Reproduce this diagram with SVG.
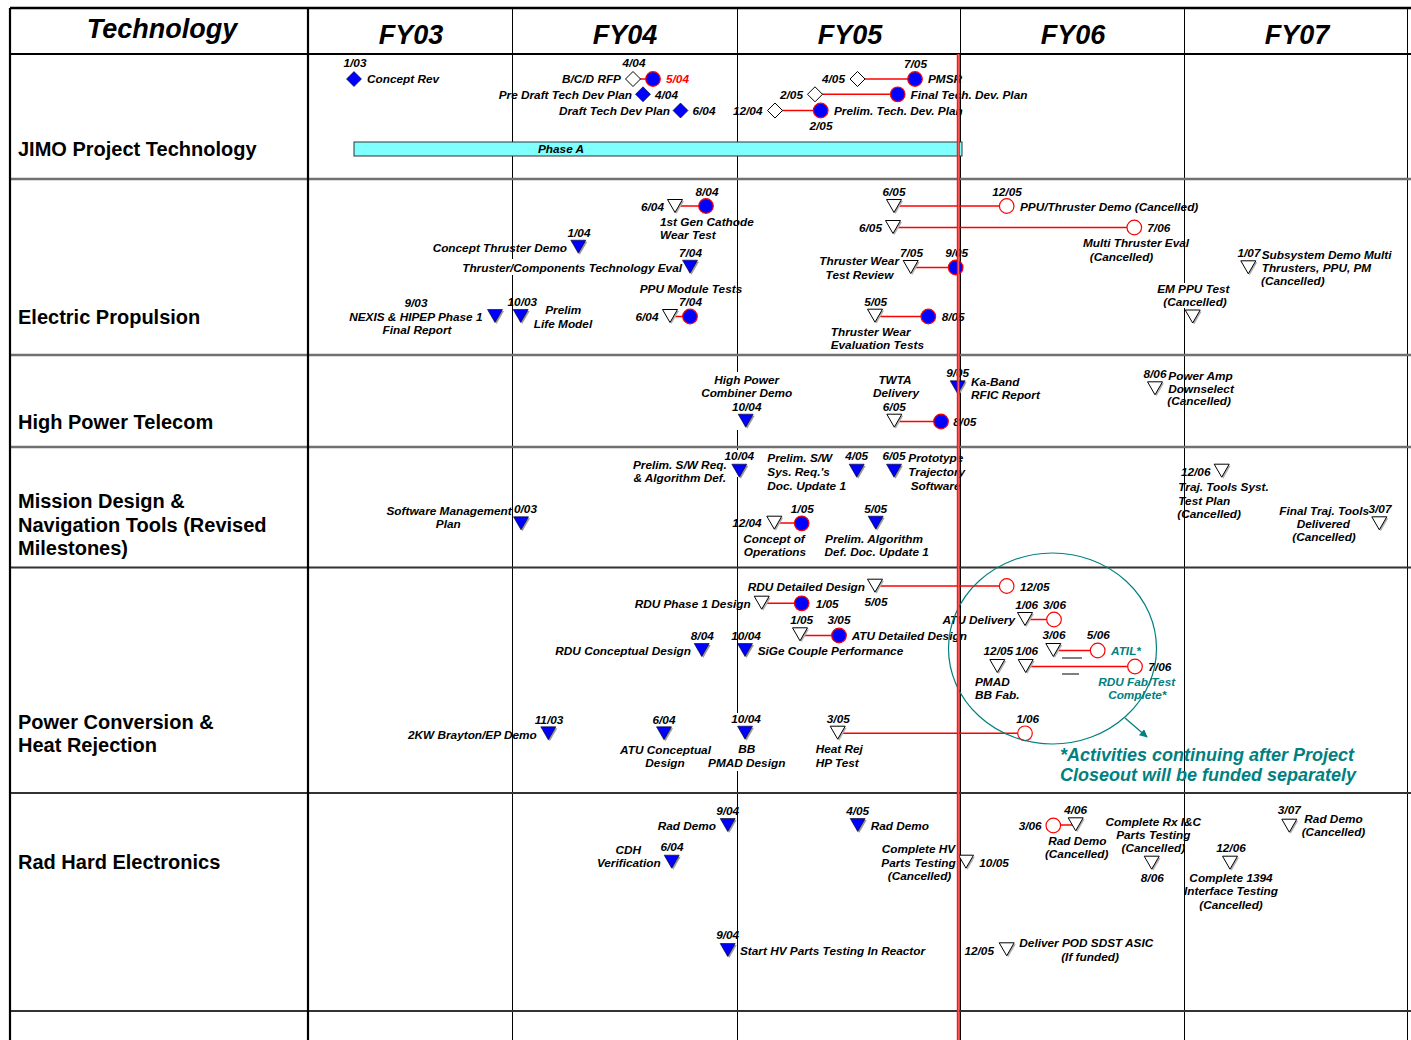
<svg xmlns="http://www.w3.org/2000/svg" width="1411" height="1040" viewBox="0 0 1411 1040">
<style>
text{font-family:"Liberation Sans",Arial,sans-serif;font-weight:bold;font-style:italic;font-size:11.8px;fill:#000}
.hd{font-size:27px}
.lbl{font-style:normal;font-size:20px}
.e{text-anchor:end}
.m{text-anchor:middle}
.red{fill:#f00}
.teal{fill:#008080}
.foot{font-size:18px;fill:#008080}
.cn{stroke:#f00;stroke-width:1.5;fill:none}
.grid{stroke:#000;stroke-width:1}
.thick{stroke:#000;stroke-width:2.2}
.rowsep{stroke:#707070;stroke-width:2.5}
.rowsep2{stroke:#333;stroke-width:2}
.wb{fill:#fff}
</style>
<defs>
<g id="tb"><polygon points="-6,-5 9,-5 1.5,8" fill="#9a9a9a"/><polygon points="-7.5,-6.5 7.5,-6.5 0,6.5" fill="#0000ff" stroke="#000" stroke-width="0.6"/></g>
<g id="tw"><polygon points="-6,-5 9,-5 1.5,8" fill="#b0b0b0"/><polygon points="-7.5,-6.5 7.5,-6.5 0,6.5" fill="#fff" stroke="#000" stroke-width="1"/></g>
<polygon id="db" points="0,-7.5 7.5,0 0,7.5 -7.5,0" fill="#0000ff" stroke="#000" stroke-width="0.6"/>
<polygon id="dw" points="0,-7.5 7.5,0 0,7.5 -7.5,0" fill="#fff" stroke="#000" stroke-width="1"/>
<circle id="cb" r="7.3" fill="#0000ff" stroke="#f00" stroke-width="1.2"/>
<circle id="cw" r="7.3" fill="#fff" stroke="#f00" stroke-width="1.2"/>
<marker id="ah" viewBox="0 0 10 10" refX="9" refY="5" markerWidth="9" markerHeight="8" markerUnits="userSpaceOnUse" orient="auto"><path d="M0,0 L10,5 L0,10 z" fill="#008080"/></marker>
</defs>
<rect width="1411" height="1040" fill="#fff"/>

<g id="grid">
<line class="grid" x1="512.5" y1="8" x2="512.5" y2="1040"/>
<line class="grid" x1="737.5" y1="8" x2="737.5" y2="1040"/>
<line class="grid" x1="960.5" y1="8" x2="960.5" y2="1040"/>
<line class="grid" x1="1184.5" y1="8" x2="1184.5" y2="1040"/>
<line class="grid" x1="1407.5" y1="8" x2="1407.5" y2="1040"/>
<line class="rowsep" x1="10" y1="179" x2="1411" y2="179"/>
<line class="rowsep" x1="10" y1="355" x2="1411" y2="355"/>
<line class="rowsep" x1="10" y1="447" x2="1411" y2="447"/>
<line class="rowsep2" x1="10" y1="567.5" x2="1411" y2="567.5"/>
<line class="rowsep2" x1="10" y1="793" x2="1411" y2="793"/>
<line class="rowsep2" x1="10" y1="1011" x2="1411" y2="1011"/>
<line class="thick" x1="10" y1="8" x2="1411" y2="8" style="stroke-width:2.6"/>
<line class="thick" x1="10" y1="54" x2="1411" y2="54"/>
<line class="thick" x1="10" y1="8" x2="10" y2="1040"/>
<line class="thick" x1="308" y1="8" x2="308" y2="1040"/>
</g>

<g id="text-backgrounds">
<rect class="wb" x="460" y="259" width="224" height="16"/>
<rect class="wb" x="699" y="372" width="97" height="58"/>
<rect class="wb" x="725" y="450" width="28" height="27"/>
<rect class="wb" x="1156" y="283" width="76" height="25"/>
<rect class="wb" x="708" y="713" width="78" height="58"/>
</g>

<g id="header">
<text class="hd m" x="162" y="38">Technology</text>
<text class="hd m" x="411" y="44">FY03</text>
<text class="hd m" x="625" y="44">FY04</text>
<text class="hd m" x="850" y="44">FY05</text>
<text class="hd m" x="1073" y="44">FY06</text>
<text class="hd m" x="1297" y="44">FY07</text>
</g>

<g id="row-labels">
<text class="lbl" x="18" y="156">JIMO Project Technology</text>
<text class="lbl" x="18" y="324">Electric Propulsion</text>
<text class="lbl" x="18" y="429">High Power Telecom</text>
<text class="lbl" x="18" y="508">Mission Design &amp;</text>
<text class="lbl" x="18" y="532">Navigation Tools (Revised</text>
<text class="lbl" x="18" y="555">Milestones)</text>
<text class="lbl" x="18" y="729">Power Conversion &amp;</text>
<text class="lbl" x="18" y="752">Heat Rejection</text>
<text class="lbl" x="18" y="869">Rad Hard Electronics</text>
</g>

<g id="phase-a">
<rect x="354" y="142" width="608" height="14" fill="#80ffff" stroke="#333" stroke-width="1"/>
<text class="m" x="561" y="153">Phase A</text>
</g>

<g id="connectors">
<line class="cn" x1="633" y1="79" x2="653" y2="79"/>
<line class="cn" x1="857" y1="79" x2="915" y2="79"/>
<line class="cn" x1="815" y1="94.3" x2="898" y2="94.3"/>
<line class="cn" x1="775" y1="110.5" x2="821" y2="110.5"/>
<line class="cn" x1="675" y1="206" x2="706" y2="206"/>
<line class="cn" x1="894" y1="206" x2="1007" y2="206"/>
<line class="cn" x1="893" y1="227.5" x2="1134" y2="227.5"/>
<line class="cn" x1="911" y1="267.5" x2="956" y2="267.5"/>
<line class="cn" x1="670" y1="316.5" x2="690" y2="316.5"/>
<line class="cn" x1="875" y1="316.5" x2="928" y2="316.5"/>
<line class="cn" x1="894" y1="421.5" x2="941" y2="421.5"/>
<line class="cn" x1="774" y1="523" x2="802" y2="523"/>
<line class="cn" x1="875" y1="586" x2="1007" y2="586"/>
<line class="cn" x1="762" y1="603.3" x2="802" y2="603.3"/>
<line class="cn" x1="800" y1="635.5" x2="839" y2="635.5"/>
<line class="cn" x1="1025" y1="619.5" x2="1054" y2="619.5"/>
<line class="cn" x1="1053" y1="650.5" x2="1098" y2="650.5"/>
<line class="cn" x1="1026" y1="666.5" x2="1135" y2="666.5"/>
<line class="cn" x1="838" y1="733.3" x2="1025" y2="733.3"/>
<line class="cn" x1="1053" y1="825" x2="1076" y2="825"/>
</g>

<!-- JIMO row -->
<g id="m-concept-rev"><text class="m" x="355" y="67">1/03</text><use href="#db" x="354" y="79"/><text x="367" y="83">Concept Rev</text></g>
<g id="m-bcd-rfp"><text class="m" x="634" y="67">4/04</text><text class="e" x="621" y="83">B/C/D RFP</text><use href="#dw" x="633" y="79"/><use href="#cb" x="653" y="79"/><text class="red" x="666" y="83">5/04</text></g>
<g id="m-pre-draft"><text class="e" x="632" y="99">Pre Draft Tech Dev Plan</text><use href="#db" x="643" y="94.3"/><text x="655" y="99">4/04</text></g>
<g id="m-draft"><text class="e" x="670" y="115">Draft Tech Dev Plan</text><use href="#db" x="680.5" y="110.5"/><text x="692.5" y="115">6/04</text></g>
<g id="m-pmsr"><text class="m" x="915.5" y="68">7/05</text><text class="e" x="845" y="83">4/05</text><use href="#dw" x="857.5" y="79"/><use href="#cb" x="915" y="79"/><text x="928" y="83">PMSR</text></g>
<g id="m-final-tdp"><text class="e" x="803" y="99">2/05</text><use href="#dw" x="815" y="94.3"/><use href="#cb" x="897.7" y="94.3"/><text x="910.5" y="99">Final Tech. Dev. Plan</text></g>
<g id="m-prelim-tdp"><text class="e" x="762.5" y="115">12/04</text><use href="#dw" x="775" y="110.5"/><use href="#cb" x="820.7" y="110.5"/><text x="834" y="115">Prelim. Tech. Dev. Plan</text><text class="m" x="821" y="130">2/05</text></g>

<!-- Electric Propulsion -->
<g id="m-1st-gen"><text class="m" x="707" y="196">8/04</text><text class="e" x="664" y="211">6/04</text><use href="#tw" x="675" y="206"/><use href="#cb" x="706" y="206"/><text x="660" y="226">1st Gen Cathode</text><text x="660" y="239">Wear Test</text></g>
<g id="m-concept-thruster"><text class="m" x="579" y="237">1/04</text><text class="e" x="567" y="252">Concept Thruster Demo</text><use href="#tb" x="578.3" y="246.7"/></g>
<g id="m-thruster-comp"><text class="m" x="690.5" y="257">7/04</text><text class="e" x="682" y="272">Thruster/Components Technology Eval</text><use href="#tb" x="690" y="266.7"/></g>
<g id="m-ppu-module"><text class="m" x="691" y="293">PPU Module Tests</text><text class="m" x="690.5" y="306">7/04</text><text class="e" x="658.5" y="321">6/04</text><use href="#tw" x="670" y="316"/><use href="#cb" x="690" y="316.5"/></g>
<g id="m-nexis"><text class="m" x="416" y="307">9/03</text><text class="e" x="482.5" y="321">NEXIS &amp; HIPEP Phase 1</text><text class="m" x="417" y="334">Final Report</text><use href="#tb" x="495" y="316"/></g>
<g id="m-prelim-life"><text class="m" x="522.3" y="305.5">10/03</text><use href="#tb" x="520.7" y="316"/><text class="m" x="563.3" y="314">Prelim</text><text class="m" x="563" y="328">Life Model</text></g>
<g id="m-ppu-thruster"><text class="m" x="894" y="196">6/05</text><use href="#tw" x="894" y="206"/><use href="#cw" x="1006.7" y="206"/><text class="m" x="1007" y="196">12/05</text><text x="1020" y="211">PPU/Thruster Demo (Cancelled)</text></g>
<g id="m-multi-thruster"><text class="e" x="882" y="232">6/05</text><use href="#tw" x="893" y="227"/><use href="#cw" x="1134.3" y="227.5"/><text x="1147.3" y="232">7/06</text><text class="m" x="1136" y="247">Multi Thruster Eval</text><text class="m" x="1121.5" y="261">(Cancelled)</text></g>
<g id="m-thruster-wear-review"><text class="e" x="899" y="264.5">Thruster Wear</text><text class="m" x="859.5" y="278.5">Test Review</text><text class="m" x="911.5" y="256.5">7/05</text><use href="#tw" x="910.7" y="267"/><use href="#cb" x="955.7" y="267.5"/><text class="m" x="956.7" y="256.5">9/05</text></g>
<g id="m-thruster-wear-eval"><text class="m" x="875.7" y="305.5">5/05</text><use href="#tw" x="875" y="315.7"/><use href="#cb" x="928.3" y="316.5"/><text x="941.7" y="320.5">8/05</text><text class="m" x="870.7" y="335.7">Thruster Wear</text><text class="m" x="877.3" y="348.5">Evaluation Tests</text></g>
<g id="m-em-ppu"><text class="m" x="1193.3" y="293">EM PPU Test</text><text class="m" x="1195" y="305.5">(Cancelled)</text><use href="#tw" x="1192.7" y="316.5"/></g>
<g id="m-subsystem"><text class="m" x="1249" y="257">1/07</text><use href="#tw" x="1248.3" y="267.3"/><text x="1261.7" y="258.5">Subsystem Demo Multi</text><text x="1261.7" y="271.7">Thrusters, PPU, PM</text><text x="1261" y="284.5">(Cancelled)</text></g>

<!-- High Power Telecom -->
<g id="m-hp-combiner"><text class="m" x="746.7" y="383.5">High Power</text><text class="m" x="746.7" y="396.5">Combiner  Demo</text><text class="m" x="746.7" y="411">10/04</text><use href="#tb" x="745.7" y="420.7"/></g>
<g id="m-twta"><text class="m" x="895" y="383.5">TWTA</text><text class="m" x="896" y="396.5">Delivery</text><text class="m" x="894.3" y="411">6/05</text><use href="#tw" x="894.3" y="420.7"/><use href="#cb" x="941" y="421.5"/><text x="953.3" y="426">8/05</text></g>
<g id="m-ka-band"><text class="m" x="957.7" y="377">9/05</text><use href="#tb" x="957.7" y="387.3"/><text x="971" y="386">Ka-Band</text><text x="971" y="399">RFIC Report</text></g>
<g id="m-power-amp"><text class="m" x="1155" y="378">8/06</text><use href="#tw" x="1155" y="388.3"/><text x="1168.3" y="380">Power Amp</text><text x="1168.3" y="392.7">Downselect</text><text x="1167.3" y="405">(Cancelled)</text></g>

<!-- Mission Design -->
<g id="m-prelim-sw-req"><text class="e" x="726.7" y="468.5">Prelim. S/W Req.</text><text class="e" x="726" y="482">&amp; Algorithm Def.</text><text class="m" x="739.3" y="460">10/04</text><use href="#tb" x="739.3" y="470.7"/></g>
<g id="m-prelim-sw-sys"><text x="767.3" y="462">Prelim. S/W</text><text x="767.3" y="476">Sys. Req.'s</text><text x="767.3" y="489.5">Doc. Update 1</text><text class="m" x="856.7" y="460">4/05</text><use href="#tb" x="856.7" y="470.7"/></g>
<g id="m-prototype"><text class="m" x="894" y="460">6/05</text><use href="#tb" x="894" y="470.7"/><text x="908.3" y="462">Prototype</text><text x="908.3" y="476">Trajectory</text><text x="910.7" y="489.5">Software</text></g>
<g id="m-sw-mgmt"><text class="e" x="511.7" y="514.5">Software Management</text><text class="m" x="448.3" y="527.5">Plan</text><text x="514" y="513">0/03</text><use href="#tb" x="521" y="523.3"/></g>
<g id="m-conops"><text class="m" x="802.3" y="512.5">1/05</text><text class="e" x="761.7" y="527">12/04</text><use href="#tw" x="774.3" y="522.7"/><use href="#cb" x="801.7" y="523.3"/><text class="m" x="774" y="542.5">Concept of</text><text class="m" x="775" y="555.5">Operations</text></g>
<g id="m-prelim-algo"><text class="m" x="875.7" y="512.5">5/05</text><use href="#tb" x="875.7" y="522.7"/><text class="m" x="874" y="542.5">Prelim. Algorithm</text><text class="m" x="876.7" y="555.5">Def. Doc. Update 1</text></g>
<g id="m-traj-test"><text class="m" x="1195.7" y="476">12/06</text><use href="#tw" x="1221.7" y="470.7"/><text x="1178.3" y="491">Traj. Tools Syst.</text><text x="1178.3" y="504.5">Test Plan</text><text x="1177.3" y="517.5">(Cancelled)</text></g>
<g id="m-final-traj"><text class="e" x="1369" y="514.5">Final Traj. Tools</text><text class="m" x="1323.3" y="527.5">Delivered</text><text class="m" x="1324" y="541">(Cancelled)</text><text class="m" x="1380" y="513">3/07</text><use href="#tw" x="1379.3" y="523.3"/></g>

<!-- Power Conversion -->
<g id="m-rdu-detailed"><text class="e" x="865" y="591">RDU Detailed Design</text><use href="#tw" x="875" y="585.7"/><use href="#cw" x="1006.7" y="586"/><text x="1020" y="591">12/05</text><text class="m" x="876" y="606">5/05</text></g>
<g id="m-rdu-phase1"><text class="e" x="750.7" y="608">RDU Phase 1 Design</text><use href="#tw" x="761.7" y="602.7"/><use href="#cb" x="801.7" y="603.3"/><text x="815.7" y="608">1/05</text></g>
<g id="m-atu-detailed"><text class="m" x="801.7" y="624">1/05</text><text class="m" x="839" y="624">3/05</text><use href="#tw" x="800" y="634.3"/><use href="#cb" x="839" y="635.5"/><text x="851.7" y="640">ATU Detailed Design</text></g>
<g id="m-rdu-conceptual"><text class="m" x="702.3" y="640">8/04</text><text class="e" x="691" y="654.5">RDU Conceptual Design</text><use href="#tb" x="701.7" y="650"/></g>
<g id="m-sige"><text class="m" x="746" y="640">10/04</text><use href="#tb" x="745" y="650"/><text x="757.7" y="654.5">SiGe Couple Performance</text></g>
<g id="m-atu-delivery"><text class="e" x="1015" y="624">ATU Delivery</text><text class="m" x="1026.7" y="608.5">1/06</text><use href="#tw" x="1025" y="619"/><use href="#cw" x="1054" y="619.5"/><text class="m" x="1054.5" y="608.5">3/06</text></g>
<g id="m-atil"><text class="m" x="1054" y="639">3/06</text><use href="#tw" x="1053.3" y="650"/><use href="#cw" x="1097.7" y="650.5"/><text class="m" x="1098.3" y="639">5/06</text><text class="teal" x="1111" y="654.5">ATIL*</text></g>
<g id="m-pmad-bb"><text class="m" x="998.3" y="654.5">12/05</text><text class="m" x="1026.7" y="654.5">1/06</text><use href="#tw" x="997.3" y="666"/><use href="#tw" x="1025.7" y="666"/><use href="#cw" x="1135" y="666.5"/><text x="1148.3" y="670.5">7/06</text><text x="975" y="685.5">PMAD</text><text x="975" y="698.5">BB  Fab.</text><text class="m teal" x="1136.7" y="686">RDU Fab/Test</text><text class="m teal" x="1137.3" y="699">Complete*</text></g>
<g id="dashes"><line x1="1062" y1="658" x2="1082" y2="658" stroke="#000" stroke-width="1"/><line x1="1062" y1="674" x2="1079" y2="674" stroke="#000" stroke-width="1"/></g>
<g id="m-brayton"><text class="m" x="549" y="723.5">11/03</text><text class="e" x="536.7" y="738.5">2KW Brayton/EP Demo</text><use href="#tb" x="548.3" y="733.3"/></g>
<g id="m-atu-conceptual"><text class="m" x="664" y="723.5">6/04</text><use href="#tb" x="664" y="733.3"/><text class="m" x="665.5" y="753.5">ATU Conceptual</text><text class="m" x="665" y="767">Design</text></g>
<g id="m-bb-pmad"><text class="m" x="746" y="723">10/04</text><use href="#tb" x="745" y="732.7"/><text x="738.3" y="753">BB</text><text class="m" x="746.7" y="767">PMAD Design</text></g>
<g id="m-heat-rej"><text class="m" x="838.3" y="723">3/05</text><use href="#tw" x="837.7" y="732.7"/><use href="#cw" x="1025" y="733.3"/><text class="m" x="1027.7" y="723">1/06</text><text x="815.7" y="753">Heat Rej</text><text x="815.7" y="767">HP Test</text></g>
<g id="note">
<ellipse cx="1052.5" cy="648.5" rx="104" ry="95.5" fill="none" stroke="#008080" stroke-width="1.2"/>
<line x1="1125" y1="718" x2="1147" y2="737" stroke="#008080" stroke-width="1.3" marker-end="url(#ah)"/>
<text class="foot" x="1060" y="761">*Activities continuing after Project</text>
<text class="foot" x="1060" y="781">Closeout will be funded separately</text>
</g>

<!-- Rad Hard -->
<g id="m-rad-demo-1"><text class="m" x="727.7" y="814.5">9/04</text><text class="e" x="716" y="829.5">Rad Demo</text><use href="#tb" x="727.7" y="825"/></g>
<g id="m-rad-demo-2"><text class="m" x="857.7" y="814.5">4/05</text><use href="#tb" x="857.7" y="825"/><text x="870.7" y="829.5">Rad Demo</text></g>
<g id="m-cdh"><text class="m" x="628.3" y="853.5">CDH</text><text class="e" x="660.7" y="867">Verification</text><text class="m" x="672" y="850.5">6/04</text><use href="#tb" x="671.7" y="861.7"/></g>
<g id="m-complete-hv"><text class="m" x="918.5" y="853">Complete HV</text><text class="m" x="918.5" y="866.5">Parts Testing</text><text class="m" x="919.5" y="879.5">(Cancelled)</text><use href="#tw" x="966" y="861.7"/><text x="979.3" y="866.5">10/05</text></g>
<g id="m-rad-demo-3"><text class="e" x="1041.7" y="829.5">3/06</text><use href="#cw" x="1053.3" y="825.5"/><use href="#tw" x="1075.7" y="824.3"/><text class="m" x="1075.7" y="813.5">4/06</text><text class="m" x="1077.3" y="844.5">Rad Demo</text><text class="m" x="1076.7" y="857.5">(Cancelled)</text></g>
<g id="m-rx-ic"><text class="m" x="1153.3" y="825.5">Complete Rx I&amp;C</text><text class="m" x="1153.3" y="838.5">Parts Testing</text><text class="m" x="1153.3" y="851.5">(Cancelled)</text><use href="#tw" x="1151.7" y="862.7"/><text class="m" x="1152.3" y="881.5">8/06</text></g>
<g id="m-1394"><text class="m" x="1231" y="851.5">12/06</text><use href="#tw" x="1230" y="862.7"/><text class="m" x="1231" y="881.5">Complete 1394</text><text class="m" x="1231" y="894.5">Interface Testing</text><text class="m" x="1231" y="908.5">(Cancelled)</text></g>
<g id="m-rad-demo-4"><text class="m" x="1289.3" y="814">3/07</text><use href="#tw" x="1289.3" y="825.7"/><text x="1304.3" y="822.5">Rad Demo</text><text x="1301.7" y="836">(Cancelled)</text></g>
<g id="m-start-hv"><text class="m" x="727.7" y="939">9/04</text><use href="#tb" x="727.7" y="950"/><text x="740" y="954.5">Start HV Parts Testing In Reactor</text></g>
<g id="m-pod-sdst"><text class="e" x="994" y="954.5">12/05</text><use href="#tw" x="1006.7" y="949.3"/><text class="e" x="1153.3" y="947">Deliver POD SDST ASIC</text><text class="m" x="1090" y="960.5">(If funded)</text></g>

<g id="today-line">
<line x1="958.3" y1="54" x2="958.3" y2="1040" stroke="#f00" stroke-width="3"/>
<line x1="958.3" y1="54" x2="958.3" y2="1040" stroke="#fff" stroke-width="0.7" opacity="0.6"/>
</g>
</svg>
